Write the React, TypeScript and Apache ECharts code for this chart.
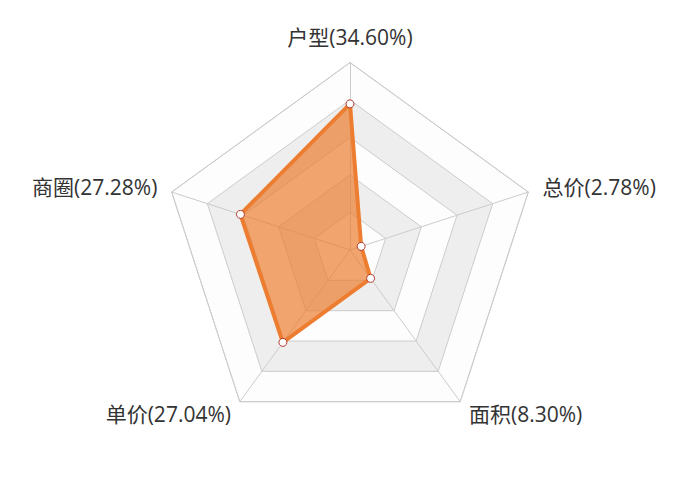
import {useEffect, useRef} from 'react';
import * as echarts from 'echarts';

// ECharts lays radar indicators out counter-clockwise from the top
const indicators = ['户型', '商圈', '单价', '面积', '总价'];
const shares = [34.6, 27.28, 27.04, 8.3, 2.78];
const axisMax = 44.4;

export default function App() {
    const ref = useRef<HTMLDivElement>(null);

    useEffect(() => {
        document.body.style.margin = '0';
        if (!ref.current) return;
        const chart = echarts.init(ref.current, null, {renderer: 'svg'});

        chart.setOption({
            animation: false,
            radar: {
                center: ['50%', '50%'],
                radius: '75%',
                splitNumber: 5,
                indicator: indicators.map((name, i) => ({
                    name: name + '(' + shares[i].toFixed(2) + '%)',
                    max: axisMax,
                    min: 0
                })),
                axisName: {
                    color: '#333',
                    fontSize: 21,
                    fontFamily: "'Open Sans', 'Noto Sans CJK SC', sans-serif"
                },
                axisLine: {lineStyle: {color: '#ccc'}},
                splitLine: {lineStyle: {color: '#ccc'}},
                splitArea: {
                    show: true,
                    areaStyle: {color: ['rgba(250,250,250,0.3)', 'rgba(200,200,200,0.3)']}
                }
            },
            series: [{
                type: 'radar',
                symbol: 'circle',
                symbolSize: 8,
                itemStyle: {color: '#fff', borderColor: '#b03a2e', borderWidth: 1},
                lineStyle: {color: '#ed7d31', width: 4},
                areaStyle: {color: '#ed7d31', opacity: 0.7},
                data: [{value: shares}]
            }]
        });

        return () => chart.dispose();
    }, []);

    return <div ref={ref} style={{width: 700, height: 500}}/>;
}
